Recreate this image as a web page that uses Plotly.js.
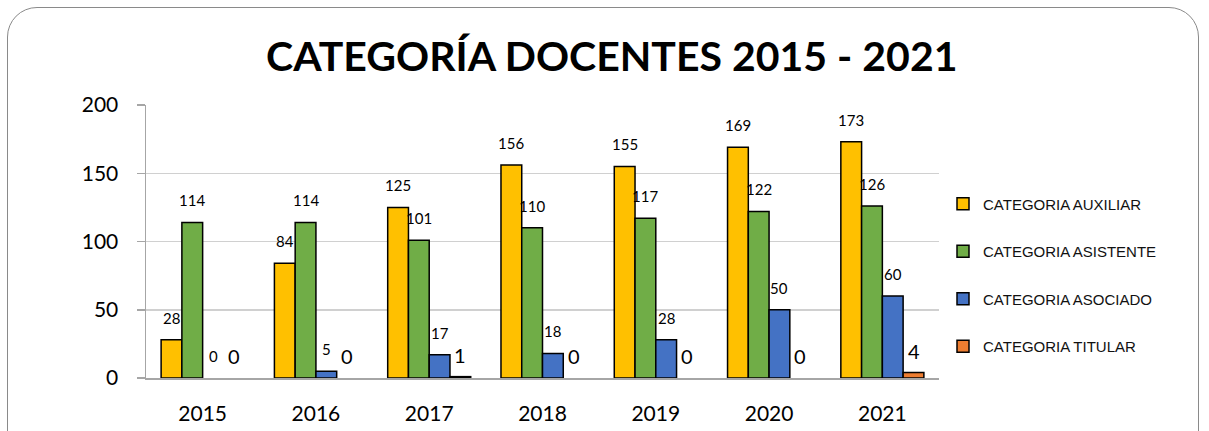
<!DOCTYPE html>
<html>
<head>
<meta charset="utf-8">
<script src="https://cdn.plot.ly/plotly-3.0.1.min.js"></script>
<style>
  html, body { margin: 0; padding: 0; background: #ffffff; }
  #wrap { position: relative; width: 1209px; height: 431px; overflow: hidden; background: #fff; }
  #frame { position: absolute; left: 7px; top: 7px; width: 1192px; height: 470px;
           border: 1.5px solid #8a8a8a; border-radius: 30px; box-sizing: border-box; }
  #chart { position: absolute; left: 0; top: 0; width: 1209px; height: 431px; }
</style>
</head>
<body>
<div id="wrap">
  <div id="frame"></div>
  <div id="chart"></div>
</div>
<script>
const years = ['2015', '2016', '2017', '2018', '2019', '2020', '2021'];
const seriesNames = ['CATEGORIA AUXILIAR', 'CATEGORIA ASISTENTE', 'CATEGORIA ASOCIADO', 'CATEGORIA TITULAR'];
const auxiliar  = [28, 84, 125, 156, 155, 169, 173];
const asistente = [114, 114, 101, 110, 117, 122, 126];
const asociado  = [0, 5, 17, 18, 28, 50, 60];
const titular   = [0, 0, 1, 0, 0, 0, 4];
const seriesColors = ['#FFC000', '#70AD47', '#4472C4', '#ED7D31'];
const labelSizes = [
  [15, 15, 15, 15, 15, 15, 15],
  [15, 15, 15, 15, 15, 15, 15],
  [15, 15, 15, 15, 15, 15, 15],
  [20, 20, 20, 20, 20, 20, 20]
];

const allValues = [auxiliar, asistente, asociado, titular];
const bargap = 0.267;
const nSeries = allValues.length;
const bw = (1 - bargap) / nSeries;

const traces = allValues.map((vals, k) => ({
  type: 'bar',
  name: seriesNames[k],
  x: years,
  // zero-height bars are not drawn in the original chart
  y: vals.map(v => (v === 0 ? null : v)),
  legendgroup: 'g' + k,
  marker: { color: seriesColors[k], line: { color: '#000000', width: 1.5 } },
  hoverinfo: 'x+y+name'
}));

const annotations = [];
allValues.forEach((vals, k) => {
  vals.forEach((v, i) => {
    annotations.push({
      x: i + (k - (nSeries - 1) / 2) * bw,
      y: v,
      xref: 'x', yref: 'y',
      text: String(v),
      showarrow: false,
      xanchor: 'center', yanchor: 'middle',
      yshift: 22,
      font: { family: 'Lato, sans-serif', size: labelSizes[k][i], color: '#000' }
    });
  });
});

const layout = {
  width: 1209, height: 431,
  paper_bgcolor: 'rgba(0,0,0,0)',
  plot_bgcolor: 'rgba(0,0,0,0)',
  margin: { l: 146, r: 270, t: 105, b: 53 },
  barmode: 'group',
  bargap: bargap,
  bargroupgap: 0,
  title: {
    text: '<b>CATEGORÍA DOCENTES 2015 - 2021</b>',
    font: { family: 'Lato, sans-serif', size: 41, color: '#000' },
    x: 0.506, xref: 'container', xanchor: 'center',
    y: 0.868, yref: 'container', yanchor: 'middle'
  },
  xaxis: {
    type: 'category',
    showline: true, linecolor: '#a6a6a6', linewidth: 1.5,
    ticks: '', showgrid: false,
    tickfont: { family: 'Lato, sans-serif', size: 21, color: '#000' },
    ticklabelstandoff: 16
  },
  yaxis: {
    range: [0, 200],
    dtick: 50,
    showline: true, linecolor: '#a6a6a6', linewidth: 1.5,
    ticks: 'outside', ticklen: 8, tickcolor: '#a6a6a6', tickwidth: 1.5,
    showgrid: true, gridcolor: '#d0d0d0', gridwidth: 1.5,
    zeroline: false,
    tickfont: { family: 'Lato, sans-serif', size: 21, color: '#000' },
    ticklabelstandoff: 14
  },
  legend: {
    xref: 'paper', yref: 'paper',
    font: { family: 'Liberation Sans, Arial, sans-serif', size: 15, color: '#111' },
    traceorder: 'grouped',
    tracegroupgap: 25,
    itemwidth: 30,
    bgcolor: 'rgba(0,0,0,0)'
  },
  annotations: annotations,
  showlegend: true
};
// legend position in paper fraction derived from pixel target
layout.legend.x = (943 - 146) / (1209 - 146 - 270);
layout.legend.y = 0.377;
layout.legend.yanchor = 'middle';
layout.legend.xanchor = 'left';

Plotly.newPlot('chart', traces, layout, { displayModeBar: false, staticPlot: true });
</script>
</body>
</html>
